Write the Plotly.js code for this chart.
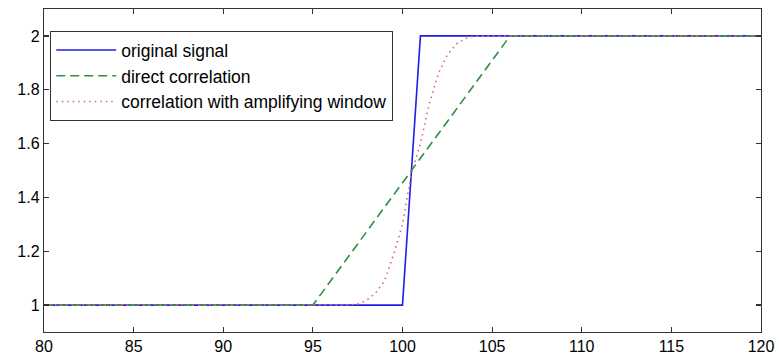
<!DOCTYPE html>
<html>
<head>
<meta charset="utf-8">
<script src="https://cdn.plot.ly/plotly-3.0.1.min.js"></script>
<style>html,body{margin:0;padding:0;background:#fff;}#chart{width:779px;height:364px;}</style>
</head>
<body>
<div id="chart"></div>
<script>
// Original signal
const origX = [80, 100, 101, 120];
const origY = [1, 1, 2, 2];
// Direct correlation
const directX = [80, 95, 106, 120];
const directY = [1, 1, 2, 2];
// Correlation with amplifying window
const ampX = [80, 97, 97.5, 98, 98.5, 99, 99.5, 100, 100.5, 101, 101.5, 102, 102.5, 103, 103.5, 104, 120];
const ampY = [1, 1, 1.004, 1.018, 1.045, 1.09, 1.187, 1.30, 1.49, 1.60, 1.75, 1.86, 1.93, 1.97, 1.99, 2, 2];

const seriesNames = ['original signal', 'direct correlation', 'correlation with amplifying window'];
const xTicks = [80, 85, 90, 95, 100, 105, 110, 115, 120];
const yTicks = [1, 1.2, 1.4, 1.6, 1.8, 2];

const traces = [
  {x: origX, y: origY, name: seriesNames[0], mode: 'lines',
   line: {color: '#1f1fe6', width: 1.6}},
  {x: directX, y: directY, name: seriesNames[1], mode: 'lines',
   line: {color: '#2f8f40', width: 1.6, dash: '9px,5px'}},
  {x: ampX, y: ampY, name: seriesNames[2], mode: 'lines',
   line: {color: '#d9667a', width: 1.6, dash: '1.5px,4px'}}
];

const axisCommon = {
  showgrid: false, zeroline: false, showline: true, linecolor: '#333', linewidth: 1.2,
  mirror: 'ticks', ticks: 'inside', ticklen: 5, tickcolor: '#333', tickwidth: 1.2,
  tickfont: {family: 'Liberation Sans, Arial, sans-serif', size: 16, color: '#000'}
};

const layout = {
  width: 779, height: 364,
  margin: {l: 44, r: 18, t: 9, b: 32},
  paper_bgcolor: '#fff', plot_bgcolor: '#fff',
  showlegend: true,
  xaxis: Object.assign({}, axisCommon, {range: [80, 120], tickvals: xTicks, ticktext: xTicks.map(String)}),
  yaxis: Object.assign({}, axisCommon, {range: [0.9, 2.1], tickvals: yTicks, ticktext: yTicks.map(v => String(v))}),
  legend: {
    x: 0.0084, y: 0.932, xanchor: 'left', yanchor: 'top',
    bgcolor: '#fff', bordercolor: '#333', borderwidth: 1.2,
    font: {family: 'Liberation Sans, Arial, sans-serif', size: 17.5, color: '#000'},
    itemwidth: 60
  }
};

Plotly.newPlot('chart', traces, layout, {displayModeBar: false, staticPlot: true});
</script>
</body>
</html>
